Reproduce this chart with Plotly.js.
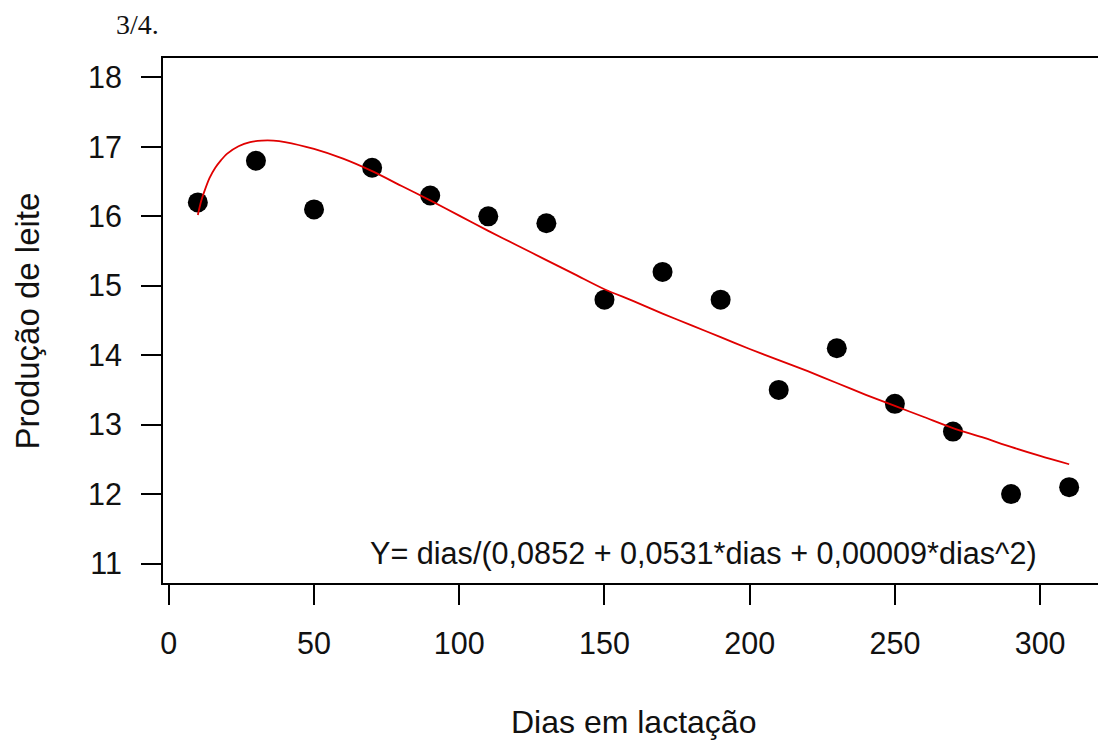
<!DOCTYPE html>
<html>
<head>
<meta charset="utf-8">
<script src="https://cdn.plot.ly/plotly-3.0.1.min.js"></script>
<style>
html,body{margin:0;padding:0;background:#fff;overflow:hidden;width:1098px;height:744px;}
#chart{width:1112px;height:744px;}
</style>
</head>
<body>
<div id="chart"></div>
<script>
// Observed data
const dias = [10, 30, 50, 70, 90, 110, 130, 150, 170, 190, 210, 230, 250, 270, 290, 310];
const producao = [16.2, 16.8, 16.1, 16.7, 16.3, 16.0, 15.9, 14.8, 15.2, 14.8, 13.5, 14.1, 13.3, 12.9, 12.0, 12.1];

// Fitted curve
const curveX = [10, 11, 12, 14, 16, 18, 20, 24, 28, 32, 36, 40, 50, 60, 70, 80, 90, 100, 110, 120, 130, 140, 150, 160, 170, 180, 190, 200, 210, 220, 230, 240, 250, 260, 270, 280, 290, 300, 310];
const curveY = [16.02, 16.20, 16.33, 16.55, 16.70, 16.81, 16.90, 17.01, 17.07, 17.09, 17.09, 17.07, 16.97, 16.83, 16.65, 16.44, 16.23, 16.01, 15.79, 15.58, 15.37, 15.16, 14.95, 14.78, 14.60, 14.43, 14.26, 14.09, 13.93, 13.77, 13.60, 13.43, 13.27, 13.11, 12.95, 12.82, 12.68, 12.55, 12.43];

const xTicks = [0, 50, 100, 150, 200, 250, 300];
const yTicks = [11, 12, 13, 14, 15, 16, 17, 18];

const equationText = "Y= dias/(0,0852 + 0,0531*dias + 0,00009*dias^2)";
const xTitle = "Dias em lactação";
const yTitle = "Produção de leite";
const topNote = "3/4.";

const font = "Liberation Sans, Arial, sans-serif";

const traces = [
  {
    x: dias, y: producao, type: "scatter", mode: "markers",
    marker: {color: "#000", size: 20, line: {width: 0}},
    hoverinfo: "x+y"
  },
  {
    x: curveX, y: curveY, type: "scatter", mode: "lines",
    line: {color: "#e00000", width: 1.8, shape: "spline", smoothing: 0.8},
    hoverinfo: "x+y"
  }
];

const axisCommon = {
  showgrid: false, zeroline: false,
  showline: true, mirror: true, linecolor: "#000", linewidth: 2,
  ticks: "outside", ticklen: 20, tickwidth: 2, tickcolor: "#000",
  tickfont: {family: font, size: 30.5, color: "#111"},
  tickmode: "array"
};

const layout = {
  width: 1112, height: 744,
  margin: {l: 163, r: 8, t: 58, b: 161},
  paper_bgcolor: "#fff", plot_bgcolor: "#fff",
  showlegend: false,
  xaxis: Object.assign({}, axisCommon, {
    range: [-2, 322], tickvals: xTicks, ticktext: xTicks.map(String),
    ticklabelstandoff: 12
  }),
  yaxis: Object.assign({}, axisCommon, {
    range: [10.72, 18.28], tickvals: yTicks, ticktext: yTicks.map(String),
    ticklabelstandoff: 13
  }),
  annotations: [
    {
      text: equationText, x: 184, y: 11.15, xref: "x", yref: "y",
      xanchor: "center", yanchor: "middle", showarrow: false,
      font: {family: font, size: 30.6, color: "#111"}
    },
    {
      text: xTitle, x: 0.5, y: -0.265, xref: "paper", yref: "paper",
      xanchor: "center", yanchor: "middle", showarrow: false,
      font: {family: font, size: 32, color: "#111"}
    },
    {
      text: yTitle, x: -0.1435, y: 0.5, xref: "paper", yref: "paper",
      xanchor: "center", yanchor: "middle", showarrow: false, textangle: -90,
      font: {family: font, size: 33, color: "#111"}
    },
    {
      text: topNote, x: -0.0266, y: 1.063, xref: "paper", yref: "paper",
      xanchor: "center", yanchor: "middle", showarrow: false,
      font: {family: "Liberation Serif, Times New Roman, serif", size: 28, color: "#111"}
    }
  ]
};

Plotly.newPlot("chart", traces, layout, {staticPlot: true, displayModeBar: false});
</script>
</body>
</html>
